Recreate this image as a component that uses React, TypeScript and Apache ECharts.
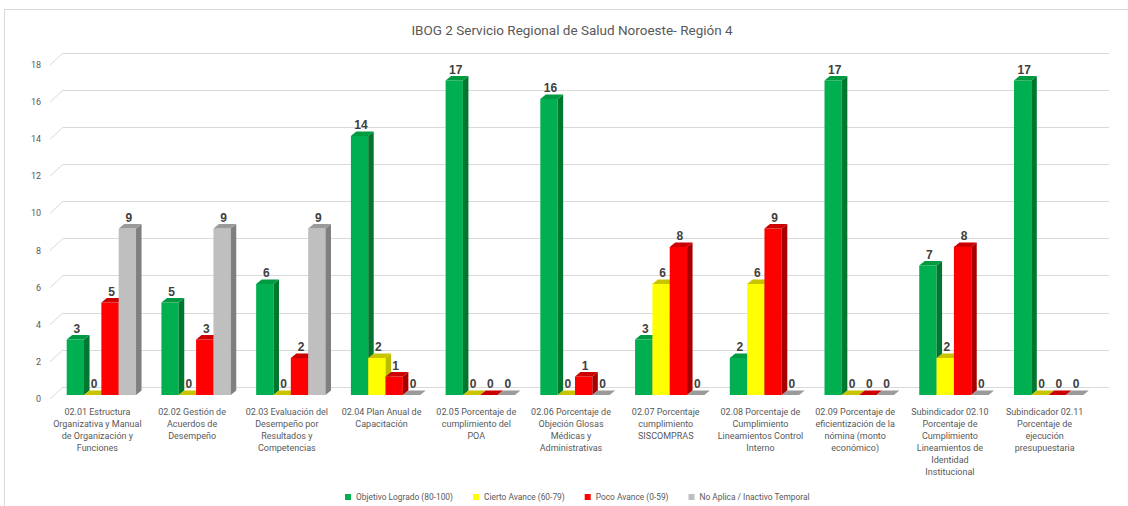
import React, { useEffect, useRef } from "react";
import * as echarts from "echarts";

const titleText = "IBOG 2 Servicio Regional de Salud Noroeste- Región 4";

const categories = [
  "02.01 Estructura\nOrganizativa y Manual\nde Organización y\nFunciones",
  "02.02 Gestión de\nAcuerdos de\nDesempeño",
  "02.03 Evaluación del\nDesempeño por\nResultados y\nCompetencias",
  "02.04 Plan Anual de\nCapacitación",
  "02.05 Porcentaje de\ncumplimiento del\nPOA",
  "02.06 Porcentaje de\nObjeción Glosas\nMédicas y\nAdministrativas",
  "02.07 Porcentaje\ncumplimiento\nSISCOMPRAS",
  "02.08 Porcentaje de\nCumplimiento\nLineamientos Control\nInterno",
  "02.09 Porcentaje de\neficientización de la\nnómina (monto\neconómico)",
  "Subindicador 02.10\nPorcentaje de\nCumplimiento\nLineamientos de\nIdentidad\nInstitucional",
  "Subindicador 02.11\nPorcentaje de\nejecución\npresupuestaria",
];

const seriesNames = [
  "Objetivo Logrado (80-100)",
  "Cierto Avance (60-79)",
  "Poco Avance (0-59)",
  "No Aplica / Inactivo Temporal",
];

const logrado = [3, 5, 6, 14, 17, 16, 3, 2, 17, 7, 17];
const ciertoAvance = [0, 0, 0, 2, 0, 0, 6, 6, 0, 2, 0];
const pocoAvance = [5, 3, 2, 1, 0, 1, 8, 9, 0, 8, 0];
const noAplica = [9, 9, 9, 0, 0, 0, 0, 0, 0, 0, 0];

const yTicks = [0, 2, 4, 6, 8, 10, 12, 14, 16, 18];
const Y_MIN = 0;
const Y_MAX = 18;
const Y_STEP = 2;

const palette = [
  { front: "#00B050", side: "#00772F", top: "#009A42" },
  { front: "#FFFF00", side: "#BDBD00", top: "#C9C400" },
  { front: "#FF0000", side: "#A80000", top: "#CC0000" },
  { front: "#BFBFBF", side: "#7F7F7F", top: "#9A9A9A" },
];

const FONT = "Roboto, 'Noto Sans', sans-serif";
const TEXT_GRAY = "#595959";
const GRID_GRAY = "#D9D9D9";

function makeBarSeries(name: string, values: number[], idx: number) {
  const col = palette[idx];
  return {
    type: "custom",
    name,
    xAxisIndex: 0,
    yAxisIndex: 0,
    itemStyle: { color: col.front },
    encode: { x: 0, y: 1 },
    data: values.map((v, i) => [i, v]),
    renderItem: (params: any, api: any) => {
      const cat = api.value(0);
      const val = api.value(1);
      const base = api.coord([cat, 0]);
      const top = api.coord([cat, val]);
      const band = api.size([1, 0])[0];
      const bw = band * 0.183;
      const dx = 5.5;
      const dy = 4.5;
      const x0 = base[0] - 2 * bw + idx * bw;
      const yT = top[1];
      const yB = base[1];
      const children: any[] = [];
      if (yB - yT > 0.1) {
        children.push({
          type: "rect",
          shape: { x: x0, y: yT, width: bw, height: yB - yT },
          style: { fill: col.front },
        });
        children.push({
          type: "polygon",
          shape: {
            points: [
              [x0 + bw, yT],
              [x0 + bw + dx, yT - dy],
              [x0 + bw + dx, yB - dy],
              [x0 + bw, yB],
            ],
          },
          style: { fill: col.side },
        });
      }
      children.push({
        type: "polygon",
        shape: {
          points: [
            [x0, yT],
            [x0 + dx, yT - dy],
            [x0 + bw + dx, yT - dy],
            [x0 + bw, yT],
          ],
        },
        style: { fill: col.top },
      });
      children.push({
        type: "text",
        style: {
          text: String(val),
          x: x0 + bw / 2 + 1.5,
          y: yT - 5,
          align: "center",
          verticalAlign: "bottom",
          textAlign: "center",
          textVerticalAlign: "bottom",
          fill: "#404040",
          font: "bold 12px 'Liberation Sans', Arial, sans-serif",
        },
      });
      return { type: "group", children };
    },
  };
}

export default function App() {
  const ref = useRef<HTMLDivElement>(null);

  useEffect(() => {
    if (!ref.current) return;
    const chart = echarts.init(ref.current, undefined, { renderer: "svg" });
    const option: any = {
      animation: false,
      backgroundColor: "#ffffff",
      title: {
        text: titleText,
        left: 567,
        textAlign: "center",
        top: 18,
        textStyle: {
          fontSize: 13.5,
          fontWeight: "normal",
          color: TEXT_GRAY,
          fontFamily: FONT,
        },
      },
      graphic: [
        {
          type: "rect",
          silent: true,
          shape: { x: 4.5, y: 9.5, width: 1200, height: 600 },
          style: { fill: "none", stroke: GRID_GRAY, lineWidth: 1 },
        },
      ],
      legend: {
        data: seriesNames,
        left: 340,
        top: 488,
        icon: "rect",
        itemWidth: 6,
        itemHeight: 6,
        itemGap: 20,
        textStyle: { fontSize: 8.4, color: TEXT_GRAY, fontFamily: FONT },
      },
      grid: [
        { left: 54, right: 32, top: 62, bottom: 111 },
        { left: 63, right: 19, top: 53, bottom: 119 },
        { left: 50, right: 36, top: 65, bottom: 107 },
      ],
      xAxis: [
        {
          gridIndex: 0,
          type: "category",
          data: categories,
          show: false,
        },
        {
          gridIndex: 1,
          type: "category",
          data: categories,
          show: false,
        },
        {
          gridIndex: 2,
          type: "category",
          data: categories,
          axisLine: { show: false },
          axisTick: { show: false },
          axisLabel: {
            interval: 0,
            margin: 7,
            color: TEXT_GRAY,
            fontSize: 9,
            lineHeight: 12,
            fontFamily: FONT,
            align: "center",
          },
        },
      ],
      yAxis: [
        {
          gridIndex: 0,
          type: "value",
          min: Y_MIN,
          max: Y_MAX,
          interval: Y_STEP,
          show: false,
        },
        {
          gridIndex: 1,
          type: "value",
          min: Y_MIN,
          max: Y_MAX,
          interval: Y_STEP,
          axisLine: { show: false },
          axisTick: { show: false },
          axisLabel: { show: false },
          splitLine: { show: true, lineStyle: { color: GRID_GRAY, width: 1 } },
        },
        {
          gridIndex: 2,
          type: "value",
          min: Y_MIN,
          max: Y_MAX,
          interval: Y_STEP,
          axisLine: { show: false },
          axisTick: { show: false },
          splitLine: { show: false },
          axisLabel: {
            margin: 9,
            color: TEXT_GRAY,
            fontSize: 9,
            fontFamily: FONT,
          },
        },
      ],
      series: [
        {
          type: "custom",
          name: "wall-ticks",
          silent: true,
          xAxisIndex: 2,
          yAxisIndex: 2,
          data: yTicks.map((v) => [0, v]),
          encode: { x: 0, y: 1 },
          renderItem: (params: any, api: any) => {
            const y = api.coord([0, api.value(1)])[1];
            const x = params.coordSys.x;
            return {
              type: "line",
              shape: { x1: x, y1: y, x2: x + 13, y2: y - 12 },
              style: { stroke: GRID_GRAY, lineWidth: 1 },
            };
          },
        },
        makeBarSeries(seriesNames[0], logrado, 0),
        makeBarSeries(seriesNames[1], ciertoAvance, 1),
        makeBarSeries(seriesNames[2], pocoAvance, 2),
        makeBarSeries(seriesNames[3], noAplica, 3),
      ],
    };
    chart.setOption(option);
    return () => chart.dispose();
  }, []);

  return (
    <div
      ref={ref}
      style={{ position: "absolute", left: 0, top: 0, width: 1128, height: 506 }}
    />
  );
}
